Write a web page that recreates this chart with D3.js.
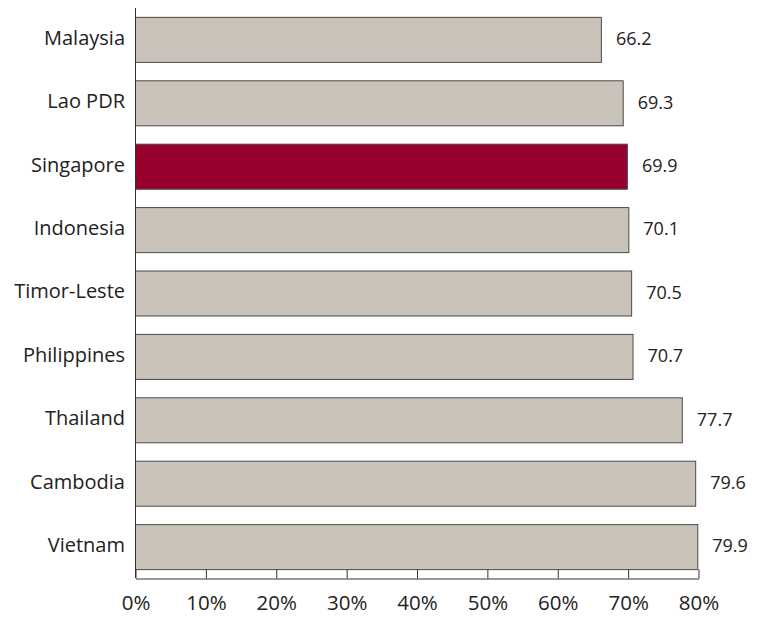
<!DOCTYPE html>
<html>
<head>
<meta charset="utf-8">
<script src="https://d3js.org/d3.v7.min.js"></script>
<style>
	body { margin: 0; background: #fff; }
	.bar { fill: #c9c2b9; stroke: #4a4a4a; stroke-width: 1px; }
	.bar.hi { fill: #98002e; }
	.lbl { font-family: "Open Sans", "Noto Sans", sans-serif; fill: #222; }
	.cat { font-size: 20px; }
	.val { font-size: 18px; }
	.axis .tick text { font-size: 20.5px; }
	.axis path, .axis line { stroke: #333; }
</style>
</head>
<body>
<svg id="chart" width="757" height="618"></svg>
<script>
	var countries = ["Malaysia", "Lao PDR", "Singapore", "Indonesia", "Timor-Leste",
	                 "Philippines", "Thailand", "Cambodia", "Vietnam"];
	var values = [66.2, 69.3, 69.9, 70.1, 70.5, 70.7, 77.7, 79.6, 79.9];
	var highlight = "Singapore";
	var xTicks = [0, 10, 20, 30, 40, 50, 60, 70, 80];

	var data = countries.map(function(c, i) { return {name: c, value: values[i]}; });

	var margin = {left: 135, top: 8},
		plotW = 563,
		plotH = 570;

	var svg = d3.select("#chart");
	var g = svg.append("g")
		.attr("transform", "translate(" + margin.left + "," + margin.top + ")");

	var x = d3.scaleLinear().domain([0, 80]).range([0, plotW]);
	var y = d3.scaleBand().domain(countries).range([0, plotH])
		.paddingInner(0.29).paddingOuter(0.14);

	g.selectAll(".bar")
		.data(data)
		.enter().append("rect")
		.attr("class", function(d) { return d.name === highlight ? "bar hi" : "bar"; })
		.attr("x", 0.5)
		.attr("y", function(d) { return y(d.name) + 0.5; })
		.attr("width", function(d) { return x(d.value); })
		.attr("height", y.bandwidth());

	// value labels
	g.selectAll(".val")
		.data(data)
		.enter().append("text")
		.attr("class", "lbl val")
		.attr("x", function(d) { return x(d.value) + 15; })
		.attr("y", function(d) { return y(d.name) + y.bandwidth() / 2 + 1; })
		.attr("dominant-baseline", "middle")
		.text(function(d) { return d.value.toFixed(1); });

	// category labels
	g.selectAll(".cat")
		.data(countries)
		.enter().append("text")
		.attr("class", "lbl cat")
		.attr("x", -10)
		.attr("y", function(d) { return y(d) + y.bandwidth() / 2; })
		.attr("text-anchor", "end")
		.attr("dominant-baseline", "middle")
		.text(function(d) { return d; });

	// left axis line
	g.append("line")
		.attr("x1", 0.5).attr("x2", 0.5)
		.attr("y1", 0).attr("y2", plotH)
		.attr("stroke", "#333");

	// bottom axis, ticks pointing up
	var xAxis = g.append("g")
		.attr("class", "axis")
		.attr("transform", "translate(0.5," + (plotH + 0.5) + ")")
		.call(d3.axisBottom(x).tickValues(xTicks).tickSizeInner(-9).tickSizeOuter(0)
			.tickFormat(function(d) { return d + "%"; }));
	xAxis.select(".domain").attr("stroke", "#333");
	xAxis.selectAll("text")
		.attr("class", "lbl")
		.attr("y", 25)
		.attr("dy", "0.32em");
</script>
</body>
</html>
